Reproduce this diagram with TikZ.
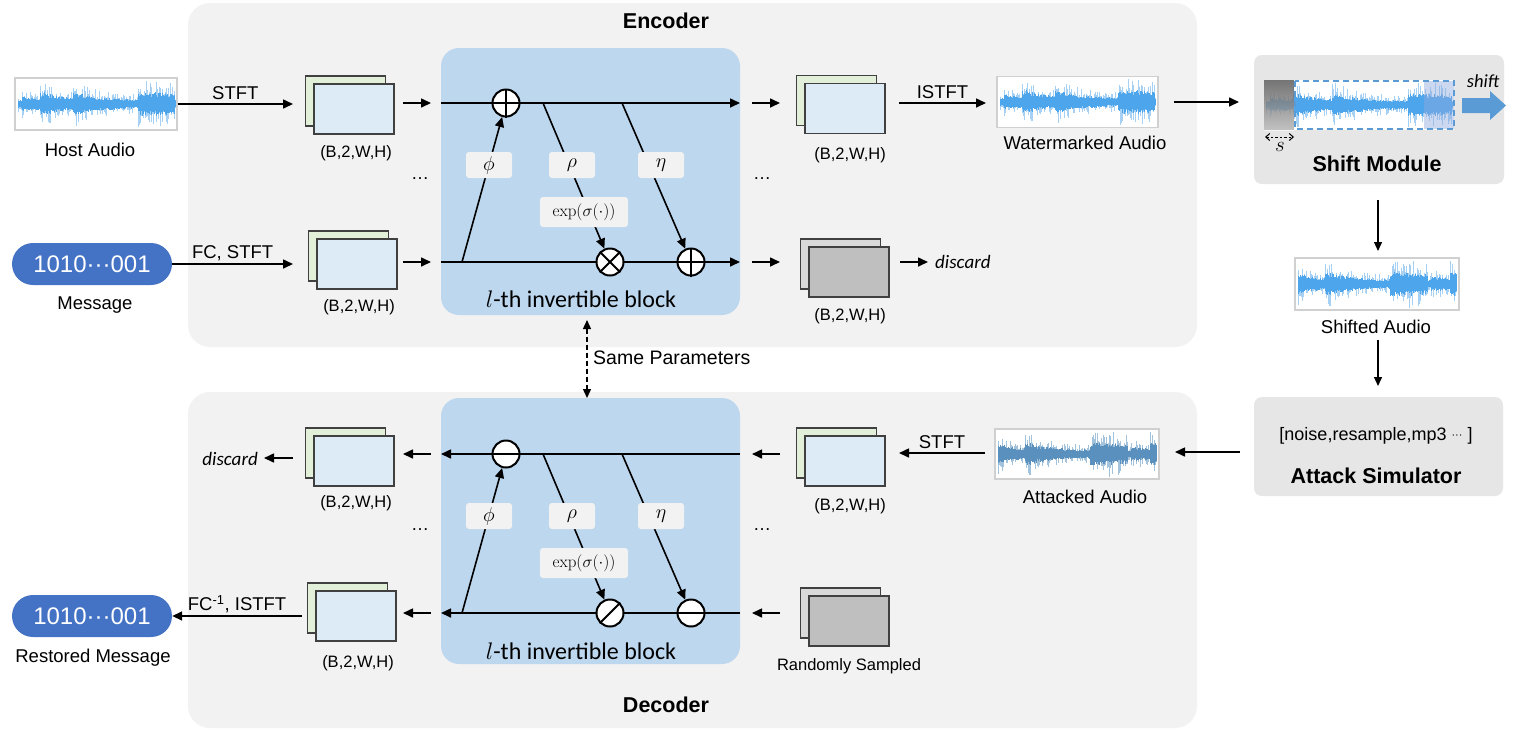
\documentclass[tikz,border=0pt]{standalone}
\usepackage{fix-cm}
\usepackage[no-math]{fontspec}
\setmainfont{Liberation Sans}
\newfontfamily\calib{Carlito}
\usetikzlibrary{arrows.meta,calc}
\newcommand\myfs[1]{\fontsize{#1}{#1}\selectfont}
\definecolor{bggray}{HTML}{F2F2F2}
\definecolor{blk}{HTML}{BDD7EE}
\definecolor{fmgreen}{HTML}{E2F0D9}
\definecolor{fmblue}{HTML}{DDEBF7}
\definecolor{fmgrayA}{HTML}{D9D9D9}
\definecolor{fmgrayB}{HTML}{BFBFBF}
\definecolor{pillblue}{HTML}{4472C4}
\definecolor{modgray}{HTML}{E7E6E6}
\definecolor{wlight}{HTML}{A6D0F4}
\definecolor{wdark}{HTML}{4DA6EC}
\definecolor{alight}{HTML}{A3C2DC}
\definecolor{adark}{HTML}{5A90BE}
\definecolor{arrblue}{HTML}{5B9BD5}
\definecolor{edgegray}{HTML}{404040}
\definecolor{lblbox}{HTML}{F2F2F2}
\definecolor{wborder}{HTML}{D0D0D0}
\definecolor{dashblue}{HTML}{5B9BD5}
\definecolor{tintblue}{HTML}{8FAADC}
\definecolor{shade}{HTML}{A6A6A6}

\newcommand\fmstack[5]{%
  \node[fmrect, fill=#4] (#1b) at ($(#2,#3)+(-8.5,-8)$) {};
  \node[fmrect, fill=#5] (#1) at (#2,#3) {};}

% x0, yc, w, hh, light, dark, seed, phase
\newcommand\wavef[8]{%
  \pgfmathsetseed{#7}%
  \foreach \i in {0,...,#3}{%
    \pgfmathsetmacro\wvt{mod(\i/#3+#8,1)}%
    \pgfmathsetmacro\wve{min(1, 0.36 + 0.3*(\wvt>0.02)*exp(-6*max(\wvt-0.02,0)) + 0.65*(\wvt>0.14)*exp(-9*max(\wvt-0.14,0)) + 0.6*(\wvt>0.35)*exp(-7*max(\wvt-0.35,0)) + 0.8*(\wvt>0.76)*exp(-2*max(\wvt-0.76,0)))}%
    \pgfmathsetmacro\wva{#4*\wve*(0.32+0.68*rnd^2)}%
    \pgfmathsetmacro\wvb{#4*\wve*(0.32+0.68*rnd^2)}%
    \pgfmathsetmacro\wvc{#4*\wve*(0.3+0.2*rnd)}%
    \pgfmathsetmacro\wvd{#4*\wve*(0.3+0.2*rnd)}%
    \draw[#5, line width=1pt] (#1+\i, #2-\wva) -- (#1+\i, #2+\wvb);
    \draw[#6, line width=1pt] (#1+\i, #2-\wvc) -- (#1+\i, #2+\wvd);
  }}

\begin{document}
\begin{tikzpicture}[x=1pt,y=-1pt,
  arr/.style={-{Triangle[length=10pt,width=9pt]}, line width=1.6pt},
  sarr/.style={-{Triangle[length=9pt,width=8pt]}, line width=1.3pt},
  txt/.style={font=\myfs{18.5}, inner sep=1pt},
  dim/.style={font=\myfs{16.5}, inner sep=1pt},
  ttl/.style={font=\bfseries\myfs{21.5}, inner sep=1pt},
  fmrect/.style={draw=edgegray, line width=1.2pt, minimum width=80pt, minimum height=50pt, inner sep=0pt},
  blkbox/.style={fill=blk, rounded corners=18pt, inner sep=0pt},
  opc/.style={circle, draw, line width=2pt, fill=white, minimum size=27pt, inner sep=0pt},
  sym/.style={line width=2pt},
  opbox/.style={fill=lblbox, rounded corners=3pt, minimum width=46pt, minimum height=26pt, inner sep=1pt, font=\myfs{20}},
  expbox/.style={opbox, minimum width=88pt, minimum height=30pt, font=\myfs{17}},
  blklbl/.style={font=\calib\myfs{24}, inner sep=1pt},
  wbox/.style={draw=wborder, line width=1.2pt, fill=white, inner sep=0pt},
  pill/.style={fill=pillblue, text=white, rounded corners=21pt, minimum width=160pt, minimum height=42pt, font=\myfs{24}, inner sep=0pt},
  disc/.style={font=\calib\itshape\myfs{19}, inner sep=1pt},
  dots/.style={font=\myfs{18}, inner sep=0pt},
  modbox/.style={fill=modgray, rounded corners=8pt, inner sep=0pt}
]
\useasboundingbox (0,0) rectangle (1526,732);
\fill[white] (0,0) rectangle (1526,732);

% ---------- backgrounds ----------
\fill[bggray, rounded corners=22pt] (188,3) rectangle (1197,347);
\fill[bggray, rounded corners=22pt] (188,392) rectangle (1197,728);
\node[ttl] (enctitle) at (666,21) {Encoder};
\node[ttl] (dectitle) at (666,705) {Decoder};

% ---------- invertible blocks ----------
\node[blkbox, minimum width=299pt, minimum height=267pt] (eblk) at (590.5,181.5) {};
\node[blkbox, minimum width=299pt, minimum height=266pt] (dblk) at (590.5,531) {};

% ---------- encoder block internals ----------
\coordinate (et0) at (441,103); \coordinate (et1) at (740,103);
\coordinate (eb0) at (441,262); \coordinate (eb1) at (740,262);
\draw[arr] (et0) -- (et1);
\draw[arr] (eb0) -- (eb1);
\node[opc] (eadd1) at (506,103) {};
\node[opc] (emul) at (610,262) {};
\node[opc] (eadd2) at (691,262) {};
\draw[sym] (eadd1.north) -- (eadd1.south) (eadd1.west) -- (eadd1.east);
\draw[sym] (eadd2.north) -- (eadd2.south) (eadd2.west) -- (eadd2.east);
\draw[sym] (emul.north east) -- (emul.south west) (emul.north west) -- (emul.south east);
\coordinate (ephi0) at (462,262);
\coordinate (erho0) at (543,103);
\coordinate (eeta0) at (622,103);
\draw[arr] (ephi0) -- (eadd1);
\draw[arr] (erho0) -- (emul);
\draw[arr] (eeta0) -- (eadd2);
\node[opbox] (ephi) at (489,165) {$\phi$};
\node[opbox] (erho) at (572,165) {$\rho$};
\node[opbox] (eeta) at (661,165) {$\eta$};
\node[expbox] (eexp) at (584,212) {$\exp(\sigma(\cdot))$};
\node[blklbl] (eblklbl) at (581,299) {$l$-th invertible block};

% ---------- decoder block internals ----------
\coordinate (dt0) at (441,454); \coordinate (dt1) at (740,454);
\coordinate (db0) at (441,613); \coordinate (db1) at (740,613);
\draw[arr] (dt1) -- (dt0);
\draw[arr] (db1) -- (db0);
\node[opc] (dsub1) at (506,454) {};
\node[opc] (ddiv) at (610,613) {};
\node[opc] (dsub2) at (691,613) {};
\draw[sym] (dsub1.west) -- (dsub1.east);
\draw[sym] (dsub2.west) -- (dsub2.east);
\draw[sym] (ddiv.north east) -- (ddiv.south west);
\coordinate (dphi0) at (462,613);
\coordinate (drho0) at (543,454);
\coordinate (deta0) at (622,454);
\draw[arr] (dphi0) -- (dsub1);
\draw[arr] (drho0) -- (ddiv);
\draw[arr] (deta0) -- (dsub2);
\node[opbox] (dphi) at (489,516) {$\phi$};
\node[opbox] (drho) at (572,516) {$\rho$};
\node[opbox] (deta) at (661,516) {$\eta$};
\node[expbox] (dexp) at (584,563) {$\exp(\sigma(\cdot))$};
\node[blklbl] (dblklbl) at (581,651) {$l$-th invertible block};

% ---------- same parameters ----------
\coordinate (sp0) at (587,320); \coordinate (sp1) at (587,398);
\draw[line width=1.4pt, dash pattern=on 5pt off 3pt,
  {Triangle[length=9pt,width=8pt]}-{Triangle[length=9pt,width=8pt]}] (sp0) -- (sp1);
\node[txt, anchor=west, font=\myfs{19.5}] (samep) at (592,358) {Same Parameters};

% ---------- feature map stacks ----------
\fmstack{E1}{354}{109}{fmgreen}{fmblue}
\fmstack{E2}{357}{264}{fmgreen}{fmblue}
\fmstack{E3}{845}{108.5}{fmgreen}{fmblue}
\fmstack{E4}{849}{272}{fmgrayA}{fmgrayB}
\fmstack{D1}{354}{461}{fmgreen}{fmblue}
\fmstack{D2}{356}{616}{fmgreen}{fmblue}
\fmstack{D3}{845}{461}{fmgreen}{fmblue}
\fmstack{D4}{849}{621}{fmgrayA}{fmgrayB}
\node[dim] at (356,153) {(B,2,W,H)};
\node[dim] at (359,307) {(B,2,W,H)};
\node[dim] at (850,155) {(B,2,W,H)};
\node[dim] at (850,316) {(B,2,W,H)};
\node[dim] at (356,503) {(B,2,W,H)};
\node[dim] at (358,663) {(B,2,W,H)};
\node[dim] at (850,506) {(B,2,W,H)};
\node[dim] (randl) at (849,666) {Randomly Sampled};

% ---------- dots ----------
\node[dots] at (420,179) {\ldots};
\node[dots] at (762,179) {\ldots};
\node[dots] at (420,530) {\ldots};
\node[dots] at (762,530) {\ldots};

% ---------- short arrows around blocks ----------
\coordinate (s1a) at (403,103); \coordinate (s1b) at (431,103);
\coordinate (s2a) at (403,262); \coordinate (s2b) at (431,262);
\coordinate (s3a) at (752,103); \coordinate (s3b) at (780,103);
\coordinate (s4a) at (752,262); \coordinate (s4b) at (780,262);
\draw[arr] (s1a) -- (s1b);
\draw[arr] (s2a) -- (s2b);
\draw[arr] (s3a) -- (s3b);
\draw[arr] (s4a) -- (s4b);
\coordinate (s5a) at (431,454); \coordinate (s5b) at (403,454);
\coordinate (s6a) at (431,613); \coordinate (s6b) at (403,613);
\coordinate (s7a) at (780,454); \coordinate (s7b) at (752,454);
\coordinate (s8a) at (780,613); \coordinate (s8b) at (752,613);
\draw[arr] (s5a) -- (s5b);
\draw[arr] (s6a) -- (s6b);
\draw[arr] (s7a) -- (s7b);
\draw[arr] (s8a) -- (s8b);

% ---------- host audio & message ----------
\node[wbox, minimum width=162pt, minimum height=52pt] (host) at (96,104) {};
\wavef{18}{104}{157}{24}{wlight}{wdark}{11}{0}
\node[txt] at (90,150) {Host Audio};
\node[pill] (msg) at (92,264) {1010···001};
\node[txt] at (95,305) {Message};
\coordinate (a1) at (293,104);
\draw[arr] (host.east) -- (a1) node[midway, above=3pt, txt] {STFT};
\coordinate (a2) at (293,264);
\draw[arr] (msg.east) -- (a2) node[midway, above=1pt, txt] {FC, STFT};

% ---------- encoder outputs ----------
\coordinate (i1a) at (899,103); \coordinate (i1b) at (986,103);
\draw[arr] (i1a) -- (i1b) node[midway, above=3pt, txt] {ISTFT};
\coordinate (dc1a) at (900,262); \coordinate (dc1b) at (928,262);
\draw[arr] (dc1a) -- (dc1b);
\node[disc, anchor=west] (disc1) at (934,262) {discard};
\node[wbox, minimum width=161pt, minimum height=51pt] (wm) at (1077.5,102) {};
\wavef{1000}{102}{155}{24}{wlight}{wdark}{11}{0}
\node[txt] at (1085,143) {Watermarked Audio};

% ---------- shift module ----------
\node[modbox, minimum width=250pt, minimum height=129pt] (shift) at (1379,119.5) {};
\fill[white] (1264,80) rectangle (1454,130);
\wavef{1266}{105}{186}{23}{wlight}{wdark}{11}{0}
\fill[shade, opacity=0.6] (1264,80) rectangle (1294,130);
\fill[tintblue, opacity=0.45] (1424,81) rectangle (1454,129);
\draw[dashblue, line width=1.6pt, dash pattern=on 6pt off 4pt] (1295,81) rectangle (1454,129);
\coordinate (ss0) at (1265,137); \coordinate (ss1) at (1294,137);
\draw[line width=1pt, dash pattern=on 2.5pt off 2pt, {Straight Barb[length=4pt,width=7pt]}-{Straight Barb[length=4pt,width=7pt]}] (ss0) -- (ss1);
\node[font=\myfs{21}, inner sep=0pt] (sl) at (1280,147) {$s$};
\fill[arrblue] (1462,98) -- (1490,98) -- (1490,91) -- (1506,105.5) -- (1490,120) -- (1490,113) -- (1462,113) -- cycle;
\node[disc, font=\calib\itshape\myfs{18.5}] (shiftl) at (1483,81) {shift};
\node[ttl] (shiftt) at (1377,164) {Shift Module};
\coordinate (w2s0) at (1174,102); \coordinate (w2s1) at (1239,102);
\draw[arr] (w2s0) -- (w2s1);

% ---------- shifted audio ----------
\coordinate (sh0) at (1378,200); \coordinate (sh1) at (1378,251);
\draw[sarr] (sh0) -- (sh1);
\node[wbox, minimum width=164pt, minimum height=52pt] (shifted) at (1377,284) {};
\wavef{1298}{284}{158}{24}{wlight}{wdark}{11}{0.18}
\node[txt] at (1376,327) {Shifted Audio};
\coordinate (sh2) at (1378,340); \coordinate (sh3) at (1378,386);
\draw[sarr] (sh2) -- (sh3);

% ---------- attack simulator ----------
\node[modbox, minimum width=249pt, minimum height=99pt] (attack) at (1378.5,446.5) {};
\node[txt, font=\myfs{18}] (attl) at (1376,436) {[noise,resample,mp3 \raisebox{2.5pt}{\myfs{11}···} ]};
\node[ttl] (attt) at (1376,476) {Attack Simulator};
\coordinate (at0) at (1240,452); \coordinate (at1) at (1175,452);
\draw[arr] (at0) -- (at1);
\node[wbox, minimum width=164pt, minimum height=50pt] (attacked) at (1077,454) {};
\wavef{998}{454}{158}{23}{alight}{adark}{11}{0.18}
\node[txt] at (1085,497) {Attacked Audio};
\coordinate (st0) at (985,453); \coordinate (st1) at (899,453);
\draw[arr] (st0) -- (st1) node[midway, above=3pt, txt] {STFT};

% ---------- decoder outputs ----------
\coordinate (dc2a) at (293,458); \coordinate (dc2b) at (264,458);
\draw[arr] (dc2a) -- (dc2b);
\node[disc, anchor=east] (disc2) at (259,459) {discard};
\node[pill] (rmsg) at (92,616) {1010···001};
\coordinate (fc0) at (302,616);
\node[txt] at (93,658) {Restored Message};
\draw[arr] (fc0) -- (rmsg.east) node[midway, above=1pt, txt] {FC\textsuperscript{-1}, ISTFT};
\end{tikzpicture}
\end{document}
